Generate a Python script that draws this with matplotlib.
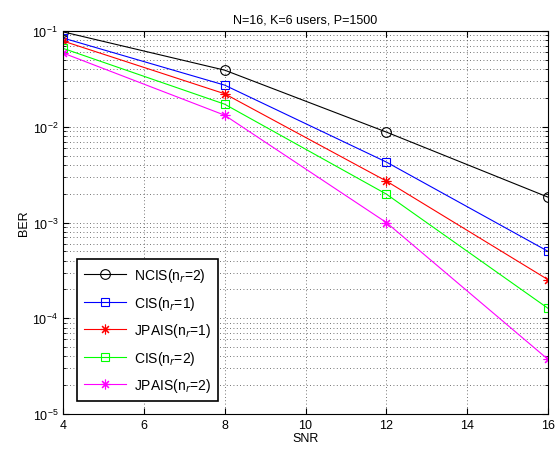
import matplotlib
matplotlib.use("Agg")
import matplotlib.pyplot as plt
from matplotlib.ticker import LogLocator, NullFormatter

plt.rcParams['font.family'] = ['Liberation Sans', 'DejaVu Sans']

snr = [4, 8, 12, 16]
ncis_nr2 = [0.098, 0.039, 0.0088, 0.00184]
cis_nr1 = [0.0845, 0.0272, 0.00428, 0.00050]
jpais_nr1 = [0.0786, 0.0221, 0.00271, 0.000253]
cis_nr2 = [0.0659, 0.0172, 0.00198, 0.000127]
jpais_nr2 = [0.0589, 0.0132, 0.00100, 0.0000372]

labels = ['NCIS(n$_r$=2)', 'CIS(n$_r$=1)', 'JPAIS(n$_r$=1)', 'CIS(n$_r$=2)', 'JPAIS(n$_r$=2)']
colors = ['black', 'blue', 'red', '#00ff00', 'magenta']
markers = ['o', 's', (8, 2, 0), 's', (8, 2, 0)]
sizes = [7, 6, 7, 6, 7]
series = [ncis_nr2, cis_nr1, jpais_nr1, cis_nr2, jpais_nr2]

fig = plt.figure(figsize=(5.56, 4.52), dpi=100)
ax = fig.add_axes([63/556, 1-415/452, (548-63)/556, (415-32)/452])

for y, c, m, ms, lab in zip(series, colors, markers, sizes, labels):
    ax.plot(snr, y, color=c, marker=m, markersize=ms, markerfacecolor='none',
            markeredgecolor=c, markeredgewidth=0.8, linewidth=0.8, label=lab)

ax.set_yscale('log')
ax.set_xlim(4, 16)
ax.set_ylim(1e-5, 1e-1)
ax.set_xticks([4, 6, 8, 10, 12, 14, 16])
ax.yaxis.set_major_locator(LogLocator(base=10, numticks=10))
ax.yaxis.set_minor_locator(LogLocator(base=10, subs=range(2, 10), numticks=20))
ax.yaxis.set_minor_formatter(NullFormatter())
ax.grid(True, which='major', linestyle=(0, (1, 3)), color='#444444', linewidth=0.6)
ax.grid(True, which='minor', axis='y', linestyle=(0, (1, 3)), color='#444444', linewidth=0.6)
ax.tick_params(which='both', direction='in', top=True, right=True, labelsize=9)
ax.tick_params(which='major', length=4)
ax.tick_params(which='minor', length=2)
for s in ax.spines.values():
    s.set_linewidth(0.8)

ax.set_xlabel('SNR', fontsize=9, labelpad=1)
ax.set_ylabel('BER', fontsize=9, labelpad=2)
ax.set_title('N=16, K=6 users, P=1500', fontsize=9, pad=6)

leg = ax.legend(loc='lower left', bbox_to_anchor=(0.029, 0.034), borderaxespad=0,
                fontsize=10, fancybox=False, edgecolor='black', framealpha=1,
                handlelength=3.0, labelspacing=0.68, borderpad=0.5, handletextpad=0.6)
leg.get_frame().set_linewidth(1.2)

fig.savefig('out.png', dpi=100)
